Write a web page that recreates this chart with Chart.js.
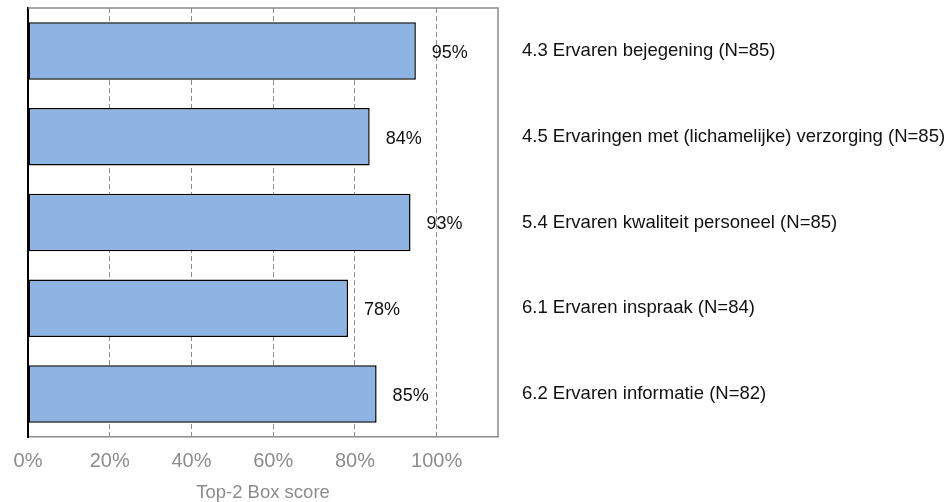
<!DOCTYPE html>
<html>
<head>
<meta charset="utf-8">
<script src="https://cdn.jsdelivr.net/npm/chart.js@4"></script>
<style>
  html, body { margin: 0; padding: 0; background: #fff; }
  #wrap { width: 950px; height: 502px; position: relative; }
</style>
</head>
<body>
<div id="wrap"><canvas id="chart"></canvas></div>
<script>
const categories = [
  "4.3 Ervaren bejegening (N=85)",
  "4.5 Ervaringen met (lichamelijke) verzorging (N=85)",
  "5.4 Ervaren kwaliteit personeel (N=85)",
  "6.1 Ervaren inspraak (N=84)",
  "6.2 Ervaren informatie (N=82)",
];
const scores = [94.9, 83.6, 93.6, 78.3, 85.3];
const scoreLabels = ["95%", "84%", "93%", "78%", "85%"];
const xTicks = [0, 20, 40, 60, 80, 100];

const FONT = "Arial, 'Liberation Sans', sans-serif";
Chart.defaults.font.family = FONT;

// gray frame on top and right of the plot area
const framePlugin = {
  id: "frame",
  afterDraw(chart) {
    const { ctx, chartArea: a } = chart;
    ctx.save();
    ctx.strokeStyle = "#8c8c8c";
    ctx.lineWidth = 1.5;
    ctx.beginPath();
    ctx.moveTo(a.left, a.top);
    ctx.lineTo(a.right, a.top);
    ctx.lineTo(a.right, a.bottom);
    ctx.stroke();
    ctx.restore();
  },
};

// value labels to the right of each bar
const valueLabels = {
  id: "valueLabels",
  afterDatasetsDraw(chart) {
    const { ctx } = chart;
    const meta = chart.getDatasetMeta(0);
    ctx.save();
    ctx.font = "18px " + FONT;
    ctx.fillStyle = "#111";
    ctx.textAlign = "left";
    ctx.textBaseline = "middle";
    meta.data.forEach((bar, i) => {
      ctx.fillText(scoreLabels[i], bar.x + 16, bar.y + 2);
    });
    ctx.restore();
  },
};

new Chart(document.getElementById("chart"), {
  type: "bar",
  data: {
    labels: categories,
    datasets: [
      {
        data: scores,
        backgroundColor: "#8eb4e3",
        borderColor: "#000",
        borderWidth: 1.5,
        borderSkipped: false,
        barPercentage: 0.67,
        categoryPercentage: 1,
      },
    ],
  },
  options: {
    indexAxis: "y",
    responsive: true,
    maintainAspectRatio: false,
    animation: false,
    layout: { padding: { top: 8, left: 0, right: 0, bottom: 0 } },
    plugins: {
      legend: { display: false },
      tooltip: { enabled: false },
    },
    scales: {
      x: {
        min: 0,
        max: 115,
        afterFit: (s) => { s.height = 65; },
        afterBuildTicks: (s) => { s.ticks = xTicks.map((v) => ({ value: v })); },
        ticks: {
          color: "#8c8c8c",
          font: { size: 20 },
          padding: 12,
          callback: (v) => v + "%",
        },
        grid: {
          color: "#8c8c8c",
          lineWidth: 1,
          drawTicks: false,
        },
        border: { display: true, color: "#8c8c8c", width: 1.5 },
        title: {
          display: true,
          text: "Top-2 Box score",
          color: "#8c8c8c",
          font: { size: 18.5, lineHeight: 1 },
          padding: { top: 0, bottom: 0 },
        },
      },
      y: {
        position: "left",
        afterFit: (s) => { s.width = 28; },
        ticks: { display: false },
        grid: { display: false, drawTicks: false },
        border: { display: true, color: "#000", width: 2 },
      },
      y2: {
        type: "category",
        position: "right",
        labels: categories,
        offset: true,
        afterFit: (s) => {
          s.width = 452;
          s.paddingTop = 0;
          s.paddingBottom = 0;
        },
        ticks: {
          color: "#111",
          font: { size: 18.5 },
          padding: 24,
          crossAlign: "near",
        },
        grid: { display: false, drawTicks: false },
        border: { display: false },
      },
    },
  },
  plugins: [framePlugin, valueLabels],
});

// dashed vertical gridlines
const c = Chart.getChart("chart");
c.options.scales.x.border.dash = [5, 3];
c.update();
</script>
</body>
</html>
